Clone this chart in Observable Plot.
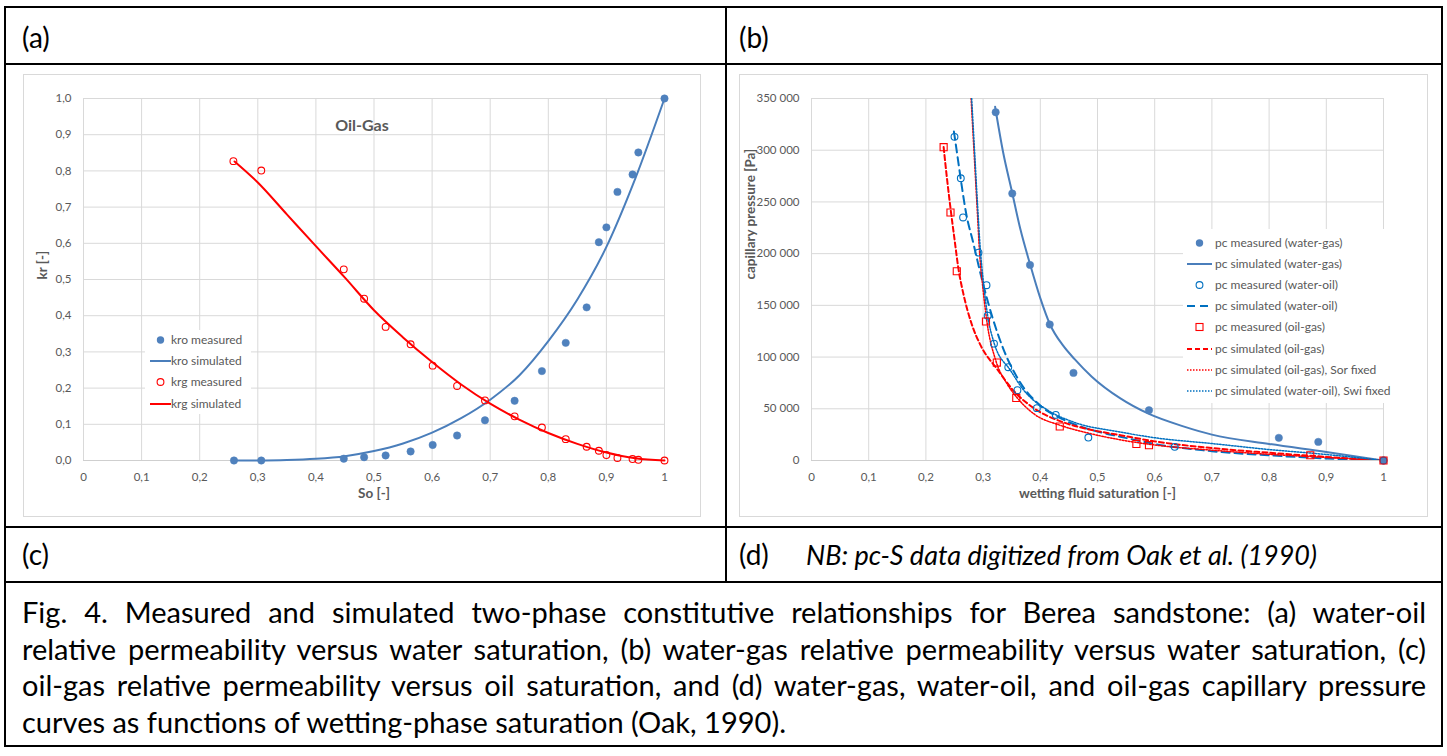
<!DOCTYPE html>
<html><head><meta charset="utf-8">
<script src="https://cdn.jsdelivr.net/npm/d3@7"></script>
<script src="https://cdn.jsdelivr.net/npm/@observablehq/plot@0.6"></script>
<style>
body{margin:0;background:#fff;font-family:Lato,"Open Sans",sans-serif;}
#page{position:relative;width:1447px;height:756px;overflow:hidden;background:#fff;}
.bl{position:absolute;background:#000;}
.lab{position:absolute;font-size:28px;color:#000;line-height:32px;}
.nb{position:absolute;font-size:27px;font-style:italic;color:#000;line-height:32px;}
.chart{position:absolute;}
.chart svg{display:block;outline:1px solid #d9d9d9;outline-offset:-1px;}
.legend{position:absolute;background:#fff;font-size:12px;color:#595959;}
.legrow{position:absolute;height:20px;line-height:20px;white-space:nowrap;}
.legrow svg{position:absolute;top:0;}
#caption{position:absolute;left:22px;top:594px;width:1404px;font-size:29px;line-height:36.5px;color:#000;}
#caption div{text-align:justify;text-align-last:justify;white-space:nowrap;}
#caption div.last{text-align-last:left;}
</style>
</head><body>
<div id="page">
  <div class="bl" style="left:4px;top:6px;width:1439px;height:2px"></div>
  <div class="bl" style="left:4px;top:63px;width:1439px;height:2px"></div>
  <div class="bl" style="left:4px;top:526px;width:1439px;height:2px"></div>
  <div class="bl" style="left:4px;top:581px;width:1439px;height:2px"></div>
  <div class="bl" style="left:4px;top:745px;width:1439px;height:2px"></div>
  <div class="bl" style="left:4px;top:6px;width:2px;height:741px"></div>
  <div class="bl" style="left:1441px;top:6px;width:2px;height:741px"></div>
  <div class="bl" style="left:725px;top:6px;width:2px;height:577px"></div>

  <div class="lab" style="left:22px;top:21px">(a)</div>
  <div class="lab" style="left:739px;top:21px">(b)</div>
  <div class="lab" style="left:22px;top:538px">(c)</div>
  <div class="lab" style="left:739px;top:538px">(d)</div>
  <div class="nb" style="left:806px;top:539px">NB: pc-S data digitized from Oak et al. (1990)</div>

  <div class="chart" id="chartA" style="left:23px;top:74px"></div>
  <div class="chart" id="chartB" style="left:739px;top:74px"></div>
  <div class="legend" id="legA" style="left:145px;top:330px;width:106px;height:84px"></div>
  <div class="legend" id="legB" style="left:1183px;top:229px;width:215px;height:174px"></div>

  <div id="caption">
    <div>Fig. 4. Measured and simulated two-phase constitutive relationships for Berea sandstone: (a) water-oil</div>
    <div>relative permeability versus water saturation, (b) water-gas relative permeability versus water saturation, (c)</div>
    <div>oil-gas relative permeability versus oil saturation, and (d) water-gas, water-oil, and oil-gas capillary pressure</div>
    <div class="last">curves as functions of wetting-phase saturation (Oak, 1990).</div>
  </div>
</div>
<script>
// ---------- shared ticks ----------
const sTicks = [0, 0.1, 0.2, 0.3, 0.4, 0.5, 0.6, 0.7, 0.8, 0.9, 1];
const sTickLabels = ["0", "0,1", "0,2", "0,3", "0,4", "0,5", "0,6", "0,7", "0,8", "0,9", "1"];
const krTicks = [0, 0.1, 0.2, 0.3, 0.4, 0.5, 0.6, 0.7, 0.8, 0.9, 1];
const krTickLabels = ["0,0", "0,1", "0,2", "0,3", "0,4", "0,5", "0,6", "0,7", "0,8", "0,9", "1,0"];
const pcTicks = [0, 50000, 100000, 150000, 200000, 250000, 300000, 350000];
const pcTickLabels = ["0", "50 000", "100 000", "150 000", "200 000", "250 000", "300 000", "350 000"];

// ---------- panel (a): Oil-Gas relative permeability ----------
const soKroMeas = [0.259, 0.306, 0.448, 0.483, 0.520, 0.563, 0.601, 0.643, 0.691, 0.742, 0.789, 0.830, 0.866, 0.887, 0.900, 0.919, 0.945, 0.955, 1.0];
const kroMeas   = [0, 0, 0.005, 0.009, 0.014, 0.025, 0.043, 0.069, 0.111, 0.165, 0.247, 0.325, 0.423, 0.603, 0.644, 0.742, 0.790, 0.851, 1.0];
const soKroSim  = [0.26, 0.3, 0.35, 0.4, 0.45, 0.5, 0.55, 0.6, 0.65, 0.7, 0.75, 0.8, 0.85, 0.9, 0.95, 1.0];
const kroSim    = [0, 0.0002, 0.0015, 0.005, 0.012, 0.026, 0.047, 0.077, 0.117, 0.168, 0.235, 0.33, 0.445, 0.59, 0.78, 1.0];
const soKrgMeas = [0.258, 0.306, 0.448, 0.483, 0.520, 0.563, 0.601, 0.643, 0.691, 0.742, 0.789, 0.830, 0.866, 0.887, 0.900, 0.919, 0.945, 0.955, 1.0];
const krgMeas   = [0.827, 0.801, 0.528, 0.447, 0.369, 0.321, 0.262, 0.206, 0.166, 0.122, 0.091, 0.059, 0.038, 0.027, 0.015, 0.007, 0.004, 0.002, 0];
const soKrgSim  = [0.26, 0.3, 0.35, 0.4, 0.45, 0.5, 0.55, 0.6, 0.65, 0.7, 0.75, 0.8, 0.85, 0.9, 0.95, 1.0];
const krgSim    = [0.826, 0.768, 0.68, 0.592, 0.505, 0.415, 0.34, 0.272, 0.21, 0.157, 0.113, 0.076, 0.046, 0.022, 0.006, 0];
const legendA = ["kro measured", "kro simulated", "krg measured", "krg simulated"];

// ---------- panel (b): capillary pressure ----------
const wgMeasS = [0.322, 0.351, 0.382, 0.4165, 0.458, 0.590, 0.817, 0.886, 1.0];
const wgMeasP = [336700, 258100, 189100, 131500, 84700, 48600, 21900, 18000, 0];
const wgSimS  = [0.321, 0.335, 0.35, 0.365, 0.382, 0.4, 0.417, 0.44, 0.46, 0.49, 0.54, 0.59, 0.65, 0.7, 0.8, 0.9, 1.0];
const wgSimP  = [342000, 298000, 261000, 224000, 190000, 157000, 131500, 111000, 98000, 81000, 60000, 45000, 33000, 25000, 16000, 8300, 0];
const woMeasS = [0.250, 0.261, 0.265, 0.292, 0.306, 0.308, 0.319, 0.344, 0.360, 0.394, 0.427, 0.484, 0.635, 1.0];
const woMeasP = [312900, 272900, 235000, 201000, 169500, 140000, 113000, 90200, 68000, 50600, 44100, 22200, 13200, 0];
const woSimS  = [0.249, 0.255, 0.262, 0.27, 0.283, 0.298, 0.316, 0.336, 0.362, 0.4, 0.435, 0.5, 0.54, 0.6, 0.7, 0.8, 0.9, 1.0];
const woSimP  = [318000, 295000, 268000, 240000, 210000, 175000, 139000, 107000, 78000, 53000, 41000, 28000, 23000, 16000, 9000, 5000, 2000, 0];
const ogMeasS = [0.231, 0.243, 0.254, 0.305, 0.324, 0.358, 0.434, 0.568, 0.590, 0.872, 1.0];
const ogMeasP = [302900, 239800, 183000, 134400, 94700, 60500, 32900, 16000, 14800, 5100, 0];
const ogSimS  = [0.231, 0.237, 0.243, 0.25, 0.257, 0.266, 0.28, 0.295, 0.325, 0.354, 0.385, 0.44, 0.49, 0.54, 0.6, 0.7, 0.8, 0.9, 1.0];
const ogSimP  = [303000, 272000, 244000, 214000, 185000, 160000, 132000, 112000, 88000, 67000, 52000, 37000, 29500, 24500, 18500, 12000, 7500, 3500, 0];
const ogSorS  = [0.279, 0.284, 0.289, 0.294, 0.300, 0.307, 0.322, 0.342, 0.359, 0.389, 0.435, 0.48, 0.54, 0.6, 0.7, 0.8, 0.9, 1.0];
const ogSorP  = [350000, 300000, 250000, 200000, 165000, 133000, 97000, 74000, 61000, 45000, 34000, 27000, 20000, 15000, 10000, 6000, 3000, 0];
const woSwiS  = [0.280, 0.285, 0.290, 0.295, 0.301, 0.308, 0.319, 0.348, 0.371, 0.412, 0.459, 0.54, 0.6, 0.7, 0.8, 0.9, 1.0];
const woSwiP  = [350000, 300000, 250000, 205000, 170000, 140000, 114000, 87000, 68000, 49000, 37000, 27500, 22000, 16400, 10600, 5800, 0];
const legendB = ["pc measured (water-gas)", "pc simulated (water-gas)", "pc measured (water-oil)", "pc simulated (water-oil)",
  "pc measured (oil-gas)", "pc simulated (oil-gas)", "pc simulated (oil-gas), Sor fixed", "pc simulated (water-oil), Swi fixed"];

// colours
const BLUE = "#4a7ebb", BLUE2 = "#0070c0", RED = "#ff0000";

const pairs = (xs, ys) => xs.map((x, i) => ({x, y: ys[i]}));
const fmt = (ticks, labels) => { const m = new Map(ticks.map((t, i) => [t, labels[i]])); return d => m.get(d); };
const style = {fontFamily: "Lato, 'Open Sans', sans-serif", fontSize: "11.5px", color: "#595959", background: "transparent", overflow: "visible"};

// ---- Plot A ----
const plotA = Plot.plot({
  width: 678, height: 443, marginLeft: 60, marginRight: 37, marginTop: 24, marginBottom: 57,
  style,
  x: {domain: [0, 1]}, y: {domain: [0, 1]},
  marks: [
    Plot.gridX(sTicks, {stroke: "#d9d9d9", strokeOpacity: 1}),
    Plot.gridY(krTicks, {stroke: "#d9d9d9", strokeOpacity: 1}),
    Plot.ruleY([0], {stroke: "#cfcfcf"}),
    Plot.axisX(sTicks, {tickSize: 0, tickPadding: 12, tickFormat: fmt(sTicks, sTickLabels), label: null}),
    Plot.axisY(krTicks, {tickSize: 0, tickPadding: 12, tickFormat: fmt(krTicks, krTickLabels), label: null}),
    Plot.text(["So [-]"], {frameAnchor: "bottom", dy: 37, fontWeight: "bold", fontSize: 13.5, fill: "#595959"}),
    Plot.text(["kr [-]"], {frameAnchor: "left", dx: -41, rotate: -90, fontWeight: "bold", fontSize: 13.5, fill: "#595959"}),
    Plot.text(["Oil-Gas"], {frameAnchor: "top", dx: -12, dy: 21, fontWeight: "bold", fontSize: 16, fill: "#595959"}),
    Plot.line(pairs(soKroSim, kroSim), {x: "x", y: "y", stroke: BLUE, strokeWidth: 2, curve: "monotone-x"}),
    Plot.line(pairs(soKrgSim, krgSim), {x: "x", y: "y", stroke: RED, strokeWidth: 2, curve: "monotone-x"}),
    Plot.dot(pairs(soKroMeas, kroMeas), {x: "x", y: "y", r: 3.7, fill: "#4f81bd", stroke: "#4f81bd", strokeWidth: 0.5}),
    Plot.dot(pairs(soKrgMeas, krgMeas), {x: "x", y: "y", r: 3.4, fill: "none", stroke: RED, strokeWidth: 1.1})
  ]
});
document.getElementById("chartA").appendChild(plotA);

// ---- Plot B ----
const plotB = Plot.plot({
  width: 689, height: 443, marginLeft: 72, marginRight: 45, marginTop: 24, marginBottom: 57,
  style,
  x: {domain: [0, 1]}, y: {domain: [0, 350000]},
  marks: [
    Plot.gridX(sTicks, {stroke: "#d9d9d9", strokeOpacity: 1}),
    Plot.gridY(pcTicks, {stroke: "#d9d9d9", strokeOpacity: 1}),
    Plot.ruleY([0], {stroke: "#cfcfcf"}),
    Plot.axisX(sTicks, {tickSize: 0, tickPadding: 12, tickFormat: fmt(sTicks, sTickLabels), label: null}),
    Plot.axisY(pcTicks, {tickSize: 0, tickPadding: 12, tickFormat: fmt(pcTicks, pcTickLabels), label: null}),
    Plot.text(["wetting fluid saturation [-]"], {frameAnchor: "bottom", dy: 37, fontWeight: "bold", fontSize: 13.5, fill: "#595959"}),
    Plot.text(["capillary pressure [Pa]"], {frameAnchor: "left", dx: -61, rotate: -90, fontWeight: "bold", fontSize: 13.5, fill: "#595959"}),
    Plot.line(pairs(wgSimS, wgSimP), {x: "x", y: "y", stroke: BLUE, strokeWidth: 2, curve: "monotone-x", clip: true}),
    Plot.line(pairs(woSimS, woSimP), {x: "x", y: "y", stroke: BLUE2, strokeWidth: 2, strokeDasharray: "8,5", curve: "monotone-x", clip: true}),
    Plot.line(pairs(ogSimS, ogSimP), {x: "x", y: "y", stroke: RED, strokeWidth: 2, strokeDasharray: "5,3", curve: "monotone-x", clip: true}),
    Plot.line(pairs(ogSorS, ogSorP), {x: "x", y: "y", stroke: RED, strokeWidth: 1.5, strokeDasharray: "1.5,1.5", curve: "monotone-x", clip: true}),
    Plot.line(pairs(woSwiS, woSwiP), {x: "x", y: "y", stroke: BLUE2, strokeWidth: 1.5, strokeDasharray: "1.5,1.5", curve: "monotone-x", clip: true}),
    Plot.dot(pairs(wgMeasS, wgMeasP), {x: "x", y: "y", r: 3.7, fill: "#4f81bd", stroke: "#4f81bd", strokeWidth: 0.5}),
    Plot.dot(pairs(woMeasS, woMeasP), {x: "x", y: "y", r: 3.4, fill: "none", stroke: BLUE2, strokeWidth: 1.1}),
    Plot.dot(pairs(ogMeasS, ogMeasP), {x: "x", y: "y", r: 4, symbol: "square", fill: "none", stroke: RED, strokeWidth: 1.1})
  ]
});
document.getElementById("chartB").appendChild(plotB);

// ---- legends (HTML overlays) ----
function swatch(kind, color, w, extra) {
  const h = 20, cx = w / 2;
  let body = "";
  if (kind === "dot") body = `<circle cx="${cx}" cy="10" r="3.7" fill="${color}"/>`;
  else if (kind === "ring") body = `<circle cx="${cx}" cy="10" r="3.4" fill="none" stroke="${color}" stroke-width="1.1"/>`;
  else if (kind === "square") body = `<rect x="${cx-3.5}" y="6.5" width="7" height="7" fill="none" stroke="${color}" stroke-width="1.1"/>`;
  else body = `<line x1="0" x2="${w}" y1="10" y2="10" stroke="${color}" stroke-width="${extra.w||2}" ${extra.dash ? `stroke-dasharray="${extra.dash}"` : ""}/>`;
  return `<svg width="${w}" height="${h}">${body}</svg>`;
}
function buildLegend(el, items, swLeft, swW, textLeft, tops) {
  el.innerHTML = items.map((it, i) =>
    `<div class="legrow" style="top:${tops[i]}px;left:0;width:100%">` +
    `<span style="position:absolute;left:${swLeft}px;top:0">${swatch(it.kind, it.color, swW, it)}</span>` +
    `<span style="position:absolute;left:${textLeft}px;top:0">${it.label}</span></div>`).join("");
}
buildLegend(document.getElementById("legA"), [
  {label: legendA[0], kind: "dot", color: "#4f81bd"},
  {label: legendA[1], kind: "line", color: BLUE},
  {label: legendA[2], kind: "ring", color: RED},
  {label: legendA[3], kind: "line", color: RED}
], 5, 21, 26, [0, 21, 42, 64]);
buildLegend(document.getElementById("legB"), [
  {label: legendB[0], kind: "dot", color: "#4f81bd"},
  {label: legendB[1], kind: "line", color: BLUE},
  {label: legendB[2], kind: "ring", color: BLUE2},
  {label: legendB[3], kind: "line", color: BLUE2, dash: "8,5"},
  {label: legendB[4], kind: "square", color: RED},
  {label: legendB[5], kind: "line", color: RED, dash: "5,3"},
  {label: legendB[6], kind: "line", color: RED, dash: "1.5,1.5", w: 1.5},
  {label: legendB[7], kind: "line", color: BLUE2, dash: "1.5,1.5", w: 1.5}
], 4, 25, 32, [4, 25, 46, 67, 88, 110, 131, 152]);
</script>
</body></html>
